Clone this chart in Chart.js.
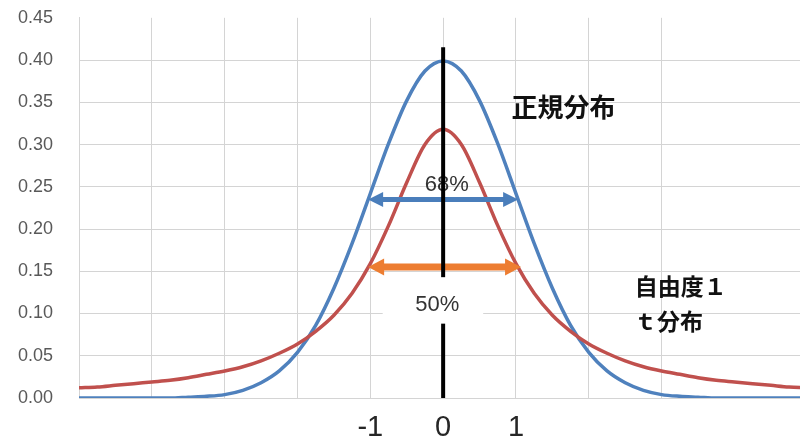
<!DOCTYPE html>
<html>
<head>
<meta charset="utf-8">
<script src="https://cdn.jsdelivr.net/npm/chart.js@4.4.1/dist/chart.umd.min.js"></script>
<style>
    html, body { margin: 0; padding: 0; background: #fff; }
    #wrap { width: 800px; height: 443px; }
</style>
</head>
<body>
<div id="wrap"><canvas id="distChart" width="800" height="443"></canvas></div>
<script>
// =========================================================
// DATA
// =========================================================
const xValues = [
    -5, -4.75, -4.5, -4.25, -4, -3.75, -3.5, -3.25, -3, -2.75, -2.5, -2.25, -2, -1.75, -1.5, -1.25, -1, -0.75, -0.5, -0.25,
    0, 0.25, 0.5, 0.75, 1, 1.25, 1.5, 1.75, 2, 2.25, 2.5, 2.75, 3, 3.25, 3.5, 3.75, 4, 4.25, 4.5, 4.75, 5
];
// 正規分布
const normalValues = [
    0.000, 0.000, 0.000, 0.000, 0.000, 0.000, 0.001, 0.002, 0.004, 0.009, 0.018, 0.032, 0.054, 0.086, 0.130, 0.183, 0.242, 0.301, 0.352, 0.387,
    0.399, 0.387, 0.352, 0.301, 0.242, 0.183, 0.130, 0.086, 0.054, 0.032, 0.018, 0.009, 0.004, 0.002, 0.001, 0.000, 0.000, 0.000, 0.000, 0.000, 0.000
];
// 自由度1 t分布
const tValues = [
    0.012, 0.013, 0.015, 0.017, 0.019, 0.021, 0.024, 0.028, 0.032, 0.037, 0.044, 0.053, 0.064, 0.079, 0.098, 0.124, 0.159, 0.204, 0.255, 0.300,
    0.318, 0.300, 0.255, 0.204, 0.159, 0.124, 0.098, 0.079, 0.064, 0.053, 0.044, 0.037, 0.032, 0.028, 0.024, 0.021, 0.019, 0.017, 0.015, 0.013, 0.012
];
const xTickLabels = [-1, 0, 1];
const yTickLabels = ['0.00', '0.05', '0.10', '0.15', '0.20', '0.25', '0.30', '0.35', '0.40', '0.45'];

// =========================================================
// ANNOTATIONS (arrows, centre line, labels)
// =========================================================
const BLUE = '#4f81bd';
const RED = '#c0504d';
const ORANGE = '#ed7d31';
const GRID = '#d4d4d4';
const CJK = '"Noto Sans CJK JP", "Noto Sans", sans-serif';

function drawArrow(ctx, x1, x2, y, color, lw, headLen, headHalf) {
    ctx.save();
    ctx.strokeStyle = color;
    ctx.fillStyle = color;
    ctx.lineWidth = lw;
    ctx.beginPath();
    ctx.moveTo(x1 + headLen - 2, y);
    ctx.lineTo(x2 - headLen + 2, y);
    ctx.stroke();
    ctx.beginPath();
    ctx.moveTo(x1, y);
    ctx.lineTo(x1 + headLen, y - headHalf);
    ctx.lineTo(x1 + headLen, y + headHalf);
    ctx.closePath();
    ctx.fill();
    ctx.beginPath();
    ctx.moveTo(x2, y);
    ctx.lineTo(x2 - headLen, y - headHalf);
    ctx.lineTo(x2 - headLen, y + headHalf);
    ctx.closePath();
    ctx.fill();
    ctx.restore();
}

const overlayPlugin = {
    id: 'overlay',
    afterDatasetsDraw(chart) {
        const ctx = chart.ctx;
        const sx = chart.scales.x;
        const sy = chart.scales.y;
        const px = v => sx.getPixelForValue(v);
        const py = v => sy.getPixelForValue(v);

        // 68% / 50% arrows
        drawArrow(ctx, px(-1.03), px(1.03), py(0.235), '#4a7ebb', 5, 15, 7.5);
        drawArrow(ctx, px(-1.03), px(1.07), py(0.155), ORANGE, 7, 16, 8.5);

        ctx.save();
        ctx.fillStyle = '#333';
        ctx.font = '22px "Liberation Sans", Arial, sans-serif';
        ctx.textAlign = 'center';
        ctx.textBaseline = 'middle';
        ctx.fillText('68%', px(0.05), py(0.252));
        ctx.restore();

        // centre line at x = 0
        ctx.save();
        ctx.strokeStyle = '#000';
        ctx.lineWidth = 4;
        ctx.beginPath();
        ctx.moveTo(px(0), py(0.415));
        ctx.lineTo(px(0), py(0));
        ctx.stroke();
        ctx.restore();

        // 50% label on a white box
        ctx.save();
        ctx.fillStyle = '#fff';
        ctx.fillRect(px(-0.83), py(0.143), px(0.55) - px(-0.83), py(0.088) - py(0.143));
        ctx.fillStyle = '#333';
        ctx.font = '22px "Liberation Sans", Arial, sans-serif';
        ctx.textAlign = 'center';
        ctx.textBaseline = 'middle';
        ctx.fillText('50%', px(-0.08), py(0.110));
        ctx.restore();

        // series labels
        ctx.save();
        ctx.fillStyle = '#111';
        ctx.textAlign = 'left';
        ctx.textBaseline = 'middle';
        ctx.font = 'bold 26px ' + CJK;
        ctx.fillText('正規分布', px(0.94), py(0.344));
        ctx.font = 'bold 23px ' + CJK;
        ctx.fillText('自由度１', px(2.63), py(0.1325));
        ctx.fillText('ｔ分布', px(2.62), py(0.091));
        ctx.restore();
    }
};

// =========================================================
// CHART
// =========================================================
const toPoints = ys => xValues.map((x, i) => ({ x: x, y: ys[i] }));

new Chart(document.getElementById('distChart').getContext('2d'), {
    type: 'line',
    data: {
        datasets: [
            { label: '自由度1 t分布', data: toPoints(tValues), borderColor: RED, borderWidth: 3.5, cubicInterpolationMode: 'monotone' },
            { label: '正規分布', data: toPoints(normalValues), borderColor: BLUE, borderWidth: 3.5, cubicInterpolationMode: 'monotone' }
        ]
    },
    options: {
        responsive: false,
        animation: false,
        devicePixelRatio: 1,
        layout: { padding: { top: 0, right: 0, bottom: 0, left: 0 } },
        elements: { point: { radius: 0 } },
        plugins: { legend: { display: false }, tooltip: { enabled: false } },
        scales: {
            x: {
                type: 'linear',
                min: -5,
                max: 4.9,
                afterBuildTicks: scale => {
                    scale.ticks = scale.ticks.filter(t => Number.isInteger(t.value));
                },
                afterFit: scale => { scale.height = 45; },
                ticks: {
                    stepSize: 1,
                    autoSkip: false,
                    maxRotation: 0,
                    padding: 13,
                    color: '#262626',
                    font: { family: '"Liberation Sans", Arial, sans-serif', size: 29 },
                    callback: v => xTickLabels.includes(v) ? String(v) : ''
                },
                grid: { color: GRID, drawTicks: false },
                border: { display: true, color: GRID }
            },
            y: {
                min: 0,
                max: 0.45,
                afterFit: scale => { scale.width = 79; },
                ticks: {
                    stepSize: 0.05,
                    padding: 7,
                    color: '#595959',
                    font: { family: '"Liberation Sans", Arial, sans-serif', size: 18 },
                    callback: (v, i) => yTickLabels[i]
                },
                grid: {
                    drawTicks: true,
                    tickLength: 19,
                    tickColor: 'rgba(0,0,0,0)',
                    color: c => (c.tick && c.tick.value > 0.449) ? 'rgba(0,0,0,0)' : GRID
                },
                border: { display: true, color: GRID }
            }
        }
    },
    plugins: [overlayPlugin]
});
</script>
</body>
</html>
